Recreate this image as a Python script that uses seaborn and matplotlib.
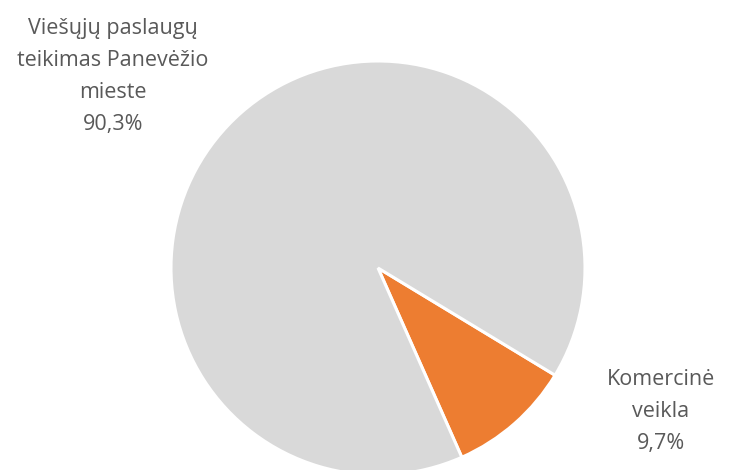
"""Pie chart: share of activity (public services vs commercial)."""

import matplotlib.pyplot as plt
import seaborn as sns

labels = ["Komercinė\nveikla", "Viešųjų paslaugų\nteikimas Panevėžio\nmieste"]
shares = [9.7, 90.3]
colors = ["#ED7D31", "#D9D9D9"]


def pct(v: float) -> str:
    return f"{v:.1f}".replace(".", ",") + "%"


def main() -> None:
    sns.set_style("white")
    plt.rcParams["font.family"] = ["Open Sans", "DejaVu Sans"]

    fig = plt.figure(figsize=(7.3, 4.7), dpi=100)
    ax = fig.add_axes([0, 0, 1, 1])
    ax.pie(
        shares,
        colors=colors,
        startangle=-31.2,
        counterclock=False,
        center=(378, 202),
        radius=207,
        frame=True,
        wedgeprops=dict(edgecolor="white", linewidth=2.2),
    )
    ax.set_xlim(0, 730)
    ax.set_ylim(0, 470)
    ax.set_aspect("equal")
    ax.axis("off")

    text_kw = dict(color="#595959", fontsize=15.5, ha="center", va="baseline",
                   linespacing=1.69, multialignment="center")
    ax.text(661, 470 - 449, f"{labels[0]}\n{pct(shares[0])}", **text_kw)
    ax.text(113, 470 - 130, f"{labels[1]}\n{pct(shares[1])}", **text_kw)

    fig.savefig("out.png", dpi=100)
    plt.close(fig)


if __name__ == "__main__":
    main()
